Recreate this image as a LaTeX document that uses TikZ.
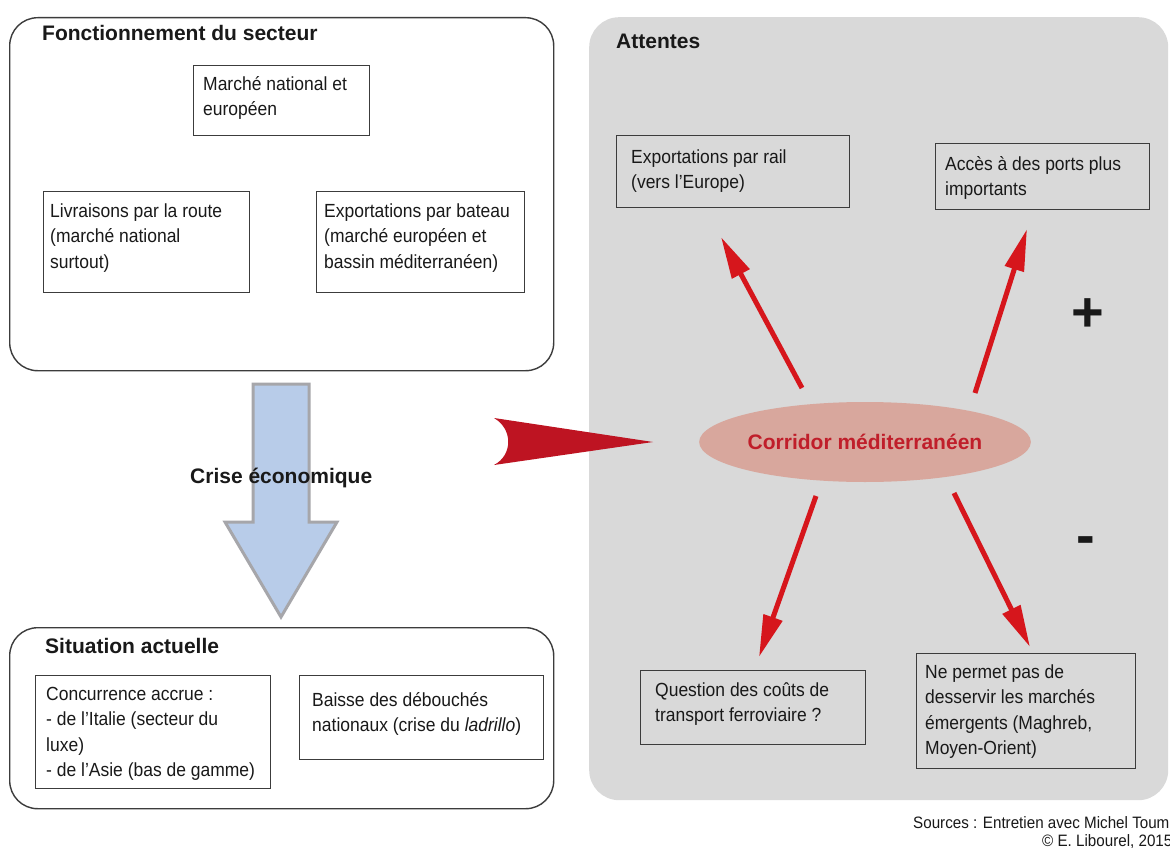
\documentclass[tikz,border=0pt]{standalone}
\usepackage{fontspec}
\setmainfont{Liberation Sans}
\newfontfamily\nar[FakeStretch=0.92]{Liberation Sans}
\usetikzlibrary{arrows.meta,shapes.geometric}
\definecolor{panelgray}{RGB}{217,217,217}
\definecolor{boxline}{RGB}{60,60,60}
\definecolor{textcol}{RGB}{25,25,25}
\definecolor{ellfill}{RGB}{216,167,157}
\definecolor{corrred}{RGB}{192,30,42}
\definecolor{arrowred}{RGB}{214,22,28}
\definecolor{bigred}{RGB}{190,20,34}
\definecolor{bluefill}{RGB}{184,204,233}
\definecolor{blueline}{RGB}{166,166,170}
\newcommand\firstl{\rule{0pt}{15pt}}
\begin{document}
\begin{tikzpicture}[x=1pt,y=-1pt,
  container/.style={draw=boxline, line width=1.4pt, rounded corners=28pt, inner sep=0pt, anchor=north west},
  txtbox/.style={draw=boxline, line width=1.4pt, inner sep=0pt, anchor=north west},
  body/.style={font=\nar\fontsize{19}{25.5}\selectfont, align=left, anchor=north west, inner sep=0pt, text=textcol},
  title/.style={font=\bfseries\fontsize{21}{25}\selectfont, anchor=base west, inner sep=0pt, text=textcol},
  redarrow/.style={draw=arrowred, line width=5pt, -{Triangle[length=42pt,width=19pt]}},
  sign/.style={font=\bfseries\fontsize{56}{60}\selectfont, inner sep=0pt, text=textcol},
  source/.style={font=\nar\fontsize{16.5}{19}\selectfont, anchor=base west, inner sep=0pt, text=textcol}
]
\useasboundingbox (0,0) rectangle (1170,848);
\clip (0,0) rectangle (1170,848);
\fill[white] (0,0) rectangle (1170,848);

% right panel
\node[fill=panelgray, rounded corners=30pt, inner sep=0pt, anchor=north west,
      minimum width=579pt, minimum height=783pt] (panel) at (589,17) {};
\node[title] (attentes) at (616,49) {Attentes};

% top-left container
\node[container, minimum width=544pt, minimum height=353pt] (fonct) at (9,17) {};
\node[title] (fonctt) at (42,41) {Fonctionnement du secteur};
\node[txtbox, minimum width=176pt, minimum height=70pt] (marche) at (193,65) {};
\node[body] (marchet) at (203,75) {\firstl Marché national et\\européen};
\node[txtbox, minimum width=206pt, minimum height=101pt] (livr) at (43,191) {};
\node[body] (livrt) at (50,202) {\firstl Livraisons par la route\\(marché national\\surtout)};
\node[txtbox, minimum width=208pt, minimum height=101pt] (bateau) at (316,191) {};
\node[body] (bateaut) at (324,202) {\firstl Exportations par bateau\\(marché européen et\\bassin méditerranéen)};

% blue arrow
\path[fill=bluefill, draw=blueline, line width=3pt, line join=miter]
  (253,384) -- (309,384) -- (309,522) -- (337,522) -- (281,617) -- (225,522) -- (253,522) -- cycle;
\node[title] (crise) at (190,483) {Crise économique};

% bottom-left container
\node[container, minimum width=544pt, minimum height=181pt] (situ) at (9,627) {};
\node[title] (situt) at (45,653) {Situation actuelle};
\node[txtbox, minimum width=235pt, minimum height=113pt] (conc) at (35,675) {};
\node[body] (conct) at (46,685) {\firstl Concurrence accrue :\\- de l’Italie (secteur du\\luxe)\\- de l’Asie (bas de gamme)};
\node[txtbox, minimum width=244pt, minimum height=84pt] (baisse) at (299,675) {};
\node[body] (baisset) at (312,691) {\firstl Baisse des débouchés\\nationaux (crise du \textit{ladrillo})};

% big red arrowhead
\fill[bigred] (494,418) -- (653,442) -- (494,465) .. controls (513,455) and (513,429) .. (494,418);

% corridor
\node[ellipse, fill=ellfill, minimum width=294pt, minimum height=80pt, inner sep=0pt,
      font=\bfseries\fontsize{21}{25}\selectfont, text=corrred] (corr) at (865,442) {Corridor méditerranéen};

% expectation boxes
\node[txtbox, minimum width=233pt, minimum height=72pt] (rail) at (616,135) {};
\node[body] (railt) at (631,148) {\firstl Exportations par rail\\(vers l’Europe)};
\node[txtbox, minimum width=214pt, minimum height=66pt] (ports) at (935,143) {};
\node[body] (portst) at (945,155) {\firstl Accès à des ports plus\\importants};
\node[txtbox, minimum width=225pt, minimum height=74pt] (couts) at (640,670) {};
\node[body] (coutst) at (655,681) {\firstl Question des coûts de\\transport ferroviaire ?};
\node[txtbox, minimum width=219pt, minimum height=115pt] (emerg) at (916,653) {};
\node[body] (emergt) at (925,663) {\firstl Ne permet pas de\\desservir les marchés\\émergents (Maghreb,\\Moyen-Orient)};

% red arrows
\coordinate (a1s) at (802,388); \coordinate (a1e) at (721,237);
\coordinate (a2s) at (975,393); \coordinate (a2e) at (1027,229);
\coordinate (a3s) at (816,496); \coordinate (a3e) at (759,657);
\coordinate (a4s) at (954,493); \coordinate (a4e) at (1030,647);
\draw[redarrow] (a1s) -- (a1e);
\draw[redarrow] (a2s) -- (a2e);
\draw[redarrow] (a3s) -- (a3e);
\draw[redarrow] (a4s) -- (a4e);

% signs
\node[sign] (plus) at (1088,315) {+};
\node[sign] (minus) at (1086,546) {-};

% sources
\node[source] (src1) at (913,828) {Sources : Entretien avec Michel Toum};
\node[source] (src2) at (1042,846) {© E. Libourel, 2015};
\end{tikzpicture}
\end{document}
